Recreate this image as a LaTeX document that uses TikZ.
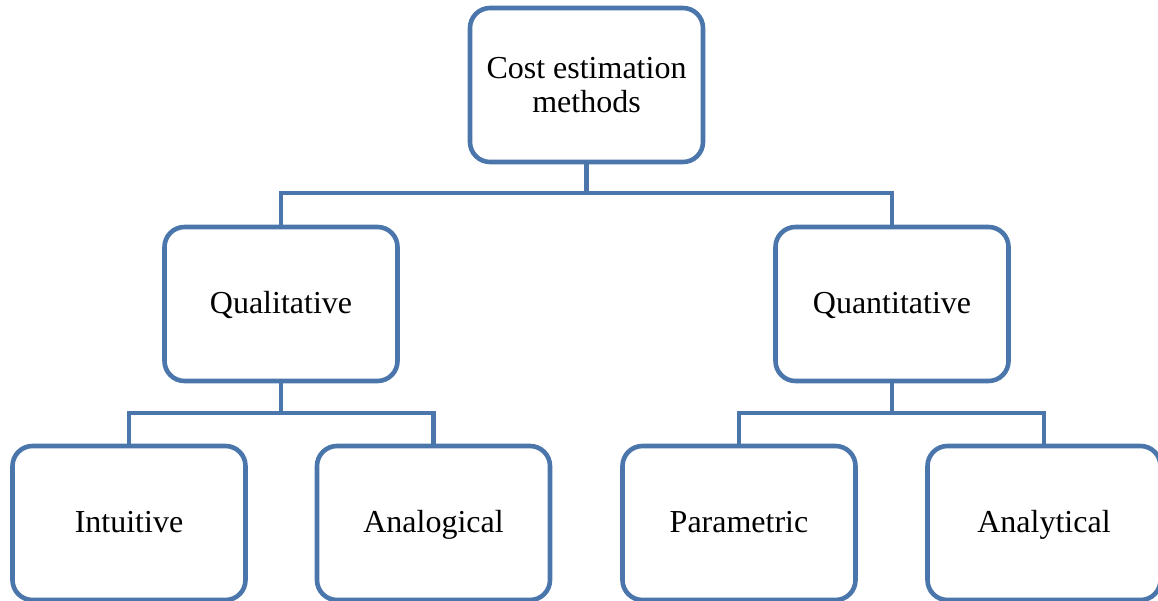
\documentclass[tikz,border=0pt]{standalone}
\usepackage{fontspec}
\setmainfont{Liberation Serif}
\definecolor{boxblue}{RGB}{74,118,172}
\begin{document}
\begin{tikzpicture}[x=1pt,y=-1pt,
  box/.style={draw=boxblue, line width=4.6pt, rounded corners=20pt, fill=white,
    minimum width=233pt, minimum height=154pt, inner sep=0pt, align=center,
    font=\fontsize{32}{34}\selectfont},
  onebox/.style={box, text height=25pt, text depth=7pt},
  link/.style={draw=boxblue, line width=4.6pt}]
\useasboundingbox (0,0) rectangle (1158,600);
\clip (0,0) rectangle (1158,600);
\node[box] (top) at (586.5,85) {Cost estimation\\methods};
\node[onebox] (qual) at (281,304) {Qualitative};
\node[onebox] (quant) at (892,304) {Quantitative};
\node[onebox] (intu) at (129,523) {Intuitive};
\node[onebox] (anal) at (433.5,523) {Analogical};
\node[onebox] (para) at (739,523) {Parametric};
\node[onebox] (anat) at (1044,523) {Analytical};
\coordinate (j1) at (586.5,193);
\coordinate (j2) at (281,413);
\coordinate (j3) at (892,413);
\draw[link] (top.south) -- (j1);
\draw[link] (qual.north) |- (j1) -| (quant.north);
\draw[link] (qual.south) -- (j2);
\draw[link] (intu.north) |- (j2) -| (anal.north);
\draw[link] (quant.south) -- (j3);
\draw[link] (para.north) |- (j3) -| (anat.north);
\end{tikzpicture}
\end{document}
